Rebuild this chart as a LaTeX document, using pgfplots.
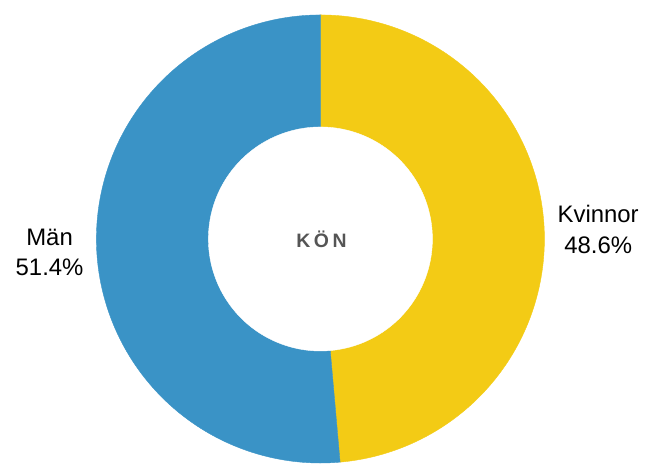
\documentclass[border=0pt]{standalone}
\usepackage{pgfplots}
\usepackage{pgfplotstable}
\usepackage{fontspec}
\setmainfont{Liberation Sans}
\pgfplotsset{compat=1.18}

\definecolor{kvinnor}{HTML}{F3CB15}
\definecolor{man}{HTML}{3A93C6}
\definecolor{centertext}{HTML}{555555}

% share in percent, drawn clockwise from the top
\pgfplotstableread{
label   value
Kvinnor 48.6
Man     51.4
}\koen

\begin{document}
\pgfplotstablegetelem{0}{value}\of\koen
\pgfmathsetmacro\angK{90-3.6*\pgfplotsretval}
\begin{tikzpicture}
\begin{axis}[
    width=645pt, height=466pt,
    scale only axis,
    hide axis,
    xmin=-1.418, xmax=1.449,
    ymin=-1.0044, ymax=1.0667,
]
% Kvinnor slice
\addplot[draw=kvinnor, fill=kvinnor, line width=0.4pt, domain=90:\angK, samples=180]
    ({cos(x)},{sin(x)}) -- (0,0) -- cycle;
% Män slice
\addplot[draw=man, fill=man, line width=0.4pt, domain=\angK:-270, samples=180]
    ({cos(x)},{sin(x)}) -- (0,0) -- cycle;
% hole
\addplot[draw=white, fill=white, domain=0:360, samples=180]
    ({0.5*cos(x)},{0.5*sin(x)}) -- cycle;

\node[align=center, font=\fontsize{24}{31}\selectfont] at (-1.209,-0.06) {Män\\51.4\%};
\node[align=center, font=\fontsize{24}{31}\selectfont] at (1.24,0.044) {Kvinnor\\48.6\%};
\node[font=\bfseries\fontsize{19.5}{22}\selectfont, text=centertext] at (0.005,0)
    {K\hspace{3.5pt}Ö\hspace{3.5pt}N};
\end{axis}
\useasboundingbox (current axis.south west) rectangle (current axis.north east);
\end{tikzpicture}
\end{document}
